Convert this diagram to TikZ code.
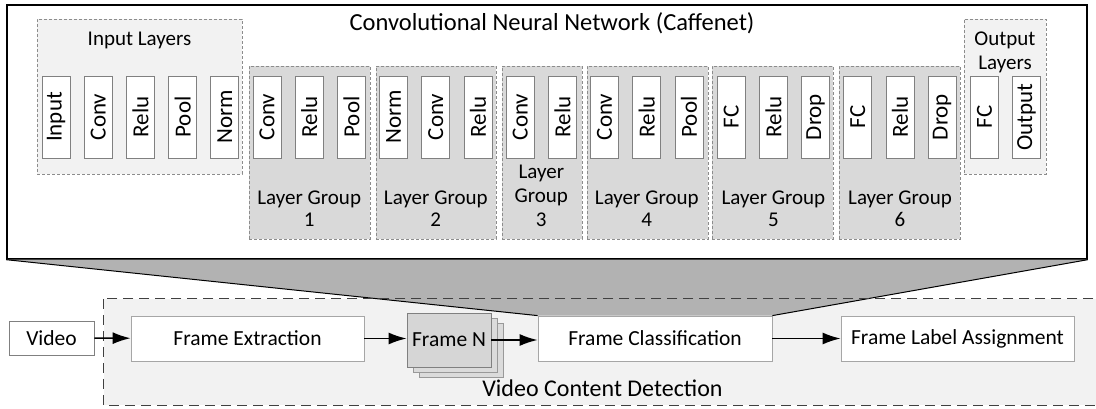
\documentclass[tikz,border=0pt]{standalone}
\usepackage{fontspec}
\setmainfont{Carlito}
\usetikzlibrary{arrows.meta,shadows,positioning}

\begin{document}
\begin{tikzpicture}[x=1pt, y=-1pt,
    lyr/.style={rectangle, draw=black!50, fill=white, line width=0.8pt, rotate=90,
        minimum width=82pt, minimum height=28pt, inner sep=0pt, font=\fontsize{23}{26}\selectfont},
    grp/.style={rectangle, draw=black!45, dash pattern=on 3pt off 2pt, line width=0.8pt,
        fill=black!15, inner sep=0pt, minimum height=173pt},
    endgrp/.style={grp, fill=black!5, minimum height=155pt},
    glabel/.style={align=center, inner sep=0pt, font=\fontsize{21}{22}\selectfont},
    blk/.style={rectangle, draw=black!35, fill=white, line width=0.8pt, inner sep=0pt,
        minimum height=45pt, minimum width=233pt, font=\fontsize{21.5}{24}\selectfont},
    title/.style={inner sep=0pt, font=\fontsize{24.5}{28}\selectfont},
    vcdline/.style={draw=black!75, line width=1.3pt, dash pattern=on 10pt off 6pt},
    line/.style={draw, line width=1.6pt, -{Latex[length=18pt,width=12pt]}}
]
    \useasboundingbox (0,0) rectangle (1096,409);

    % CNN box
    \node[draw, line width=1.4pt, fill=white, minimum width=1080pt, minimum height=254pt, inner sep=0pt] (cnn) at (547,132) {};
    \node[title] (cnnt) at (552,23) {Convolutional Neural Network (Caffenet)};

    % groups
    \node[endgrp, minimum width=205pt] (inp) at (139.5,96.5) {};
    \node[grp, minimum width=121pt] (g1) at (309.5,152.5) {};
    \node[grp, minimum width=120pt] (g2) at (436,152.5) {};
    \node[grp, minimum width=80pt] (g3) at (542,152.5) {};
    \node[grp, minimum width=121pt] (g4) at (647.5,152.5) {};
    \node[grp, minimum width=121pt] (g5) at (772.5,152.5) {};
    \node[grp, minimum width=121pt] (g6) at (899.5,152.5) {};
    \node[endgrp, minimum width=82pt] (outg) at (1005,96.5) {};

    \node[glabel] (inpt) at (139.5,40) {Input Layers};
    \node[glabel] (g1t) at (309.2,209) {Layer Group\\1};
    \node[glabel] (g2t) at (435.8,209) {Layer Group\\2};
    \node[glabel, font=\fontsize{21}{24}\selectfont] (g3t) at (541.3,196) {Layer\\Group\\3};
    \node[glabel] (g4t) at (646.8,209) {Layer Group\\4};
    \node[glabel] (g5t) at (773.4,209) {Layer Group\\5};
    \node[glabel] (g6t) at (900,209) {Layer Group\\6};
    \node[glabel, font=\fontsize{21}{24}\selectfont] (outt) at (1005,52) {Output\\Layers};

    % layers
    \node[lyr] (l1) at (56,117) {Input};
    \node[lyr] (l2) at (98.2,117) {Conv};
    \node[lyr] (l3) at (140.4,117) {Relu};
    \node[lyr] (l4) at (182.6,117) {Pool};
    \node[lyr] (l5) at (224.8,117) {Norm};
    \node[lyr] (l6) at (267,117) {Conv};
    \node[lyr] (l7) at (309.2,117) {Relu};
    \node[lyr] (l8) at (351.4,117) {Pool};
    \node[lyr] (l9) at (393.6,117) {Norm};
    \node[lyr] (l10) at (435.8,117) {Conv};
    \node[lyr] (l11) at (478,117) {Relu};
    \node[lyr] (l12) at (520.2,117) {Conv};
    \node[lyr] (l13) at (562.4,117) {Relu};
    \node[lyr] (l14) at (604.6,117) {Conv};
    \node[lyr] (l15) at (646.8,117) {Relu};
    \node[lyr] (l16) at (689,117) {Pool};
    \node[lyr] (l17) at (731.2,117) {FC};
    \node[lyr] (l18) at (773.4,117) {Relu};
    \node[lyr] (l19) at (815.6,117) {Drop};
    \node[lyr] (l20) at (857.8,117) {FC};
    \node[lyr] (l21) at (900,117) {Relu};
    \node[lyr] (l22) at (942.2,117) {Drop};
    \node[lyr] (l23) at (984.4,117) {FC};
    \node[lyr] (l24) at (1026.6,117) {Output};

    % video content detection
    \node[fill=black!5, minimum width=996pt, minimum height=106pt, inner sep=0pt] (vcd) at (602,352) {};
    \node[title, font=\fontsize{24}{28}\selectfont] (vcdt) at (602.5,388) {Video Content Detection};

    \node[blk, draw=black!50, minimum width=85pt, minimum height=34pt] (video) at (51.5,338) {Video};
    \node[blk] (fe) at (247.5,338.5) {Frame Extraction};
    \node[blk, fill=black!16, draw=black!50, minimum width=84pt, minimum height=54pt,
        copy shadow={shadow xshift=12pt, shadow yshift=-10pt, fill=black!14, draw=black!40},
        copy shadow={shadow xshift=6pt, shadow yshift=-5pt, fill=black!14, draw=black!40}] (fn) at (449,340) {Frame N};
    \node[blk, minimum width=234pt] (fc) at (655,338.5) {Frame Classification};
    \node[blk] (fla) at (957.5,338.5) {Frame Label Assignment};

    % funnel
    \fill[black!30] (cnn.south west) -- (cnn.south east) -- (fc.north east) -- (fc.north west) -- cycle;
    \draw[line width=1pt] (cnn.south west) -- (fc.north west);
    \draw[line width=1pt] (cnn.south east) -- (fc.north east);
    \draw[vcdline] (vcd.north west) rectangle (vcd.south east);

    \path[line] (video) -- (fe);
    \path[line] (fe.east) -- (fe.east -| fn.west);
    \path[line] (fn.east) -- (fn.east -| fc.west);
    \path[line] (fc) -- (fla);
\end{tikzpicture}
\end{document}
